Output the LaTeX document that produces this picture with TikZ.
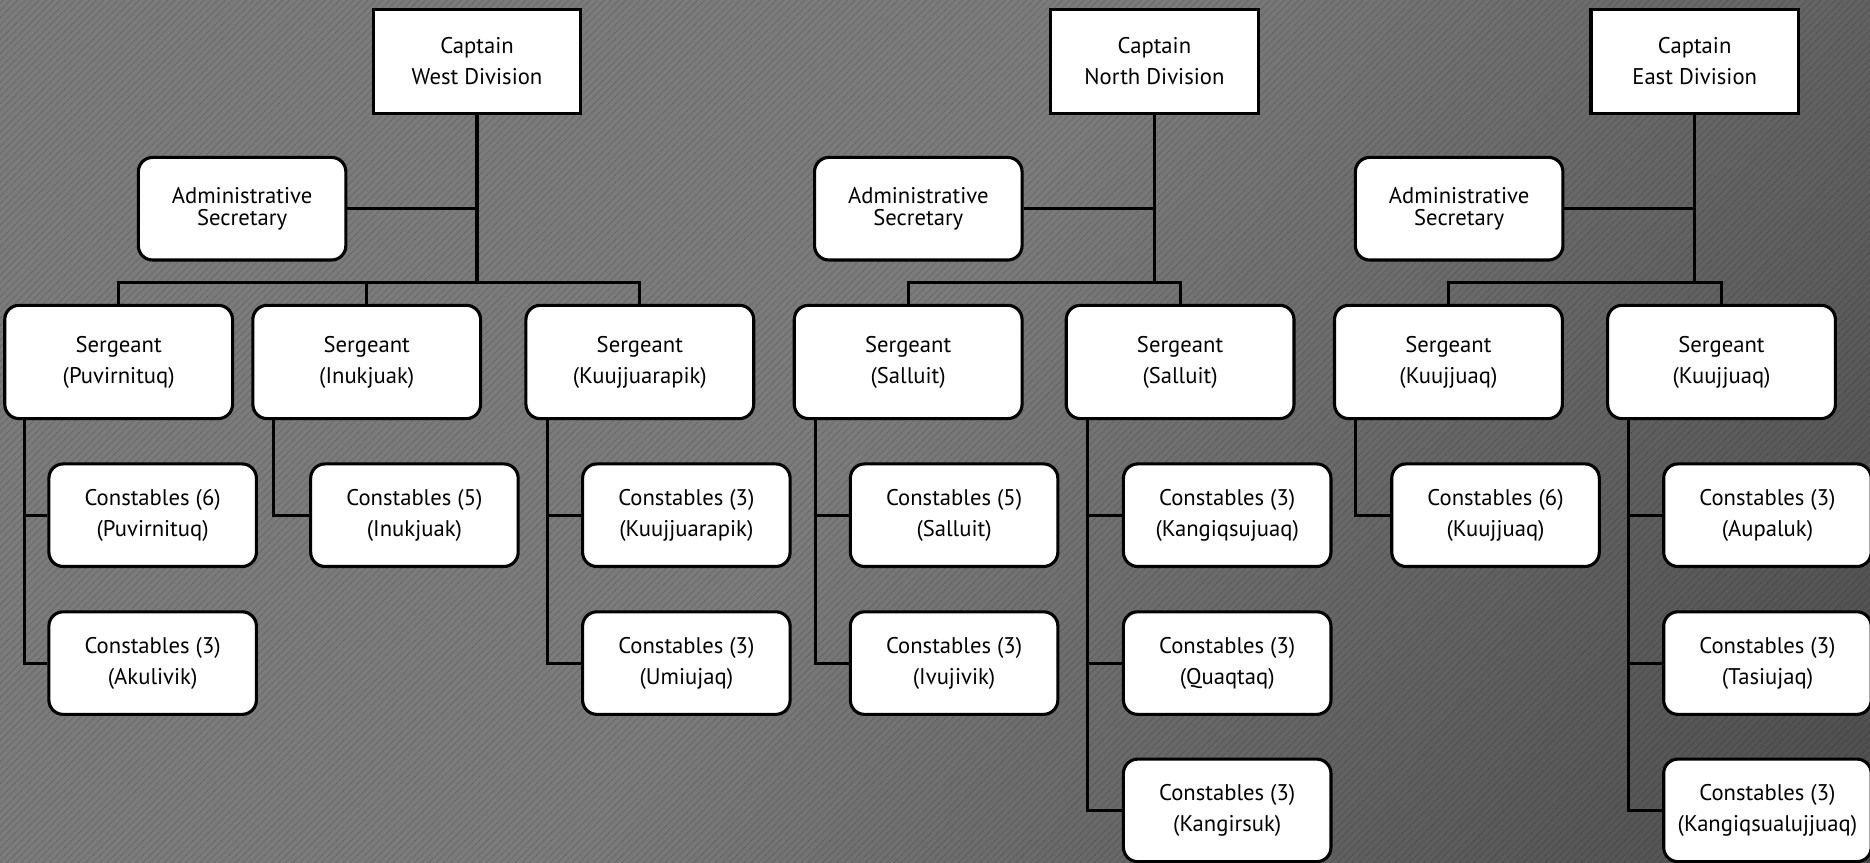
\documentclass[tikz,border=0pt]{standalone}
\usepackage{fontspec}
\setmainfont{PT Sans}
\usetikzlibrary{patterns}
\definecolor{bglight}{HTML}{7B7B7B}
\definecolor{bgdark}{HTML}{3A3A3A}
\pgfdeclarehorizontalshading{bggrad}{100bp}{color(0bp)=(bglight); color(48bp)=(bglight); color(100bp)=(bgdark)}
\tikzset{
  post/.style={draw=black,line width=1.3pt,fill=white,align=center,
    font=\fontsize{9.5}{13}\selectfont,inner sep=1pt},
  captain/.style={post,minimum width=87pt,minimum height=43.5pt},
  secretary/.style={post,rounded corners=6pt,minimum width=87pt,minimum height=43pt,
    font=\fontsize{9.5}{9.5}\selectfont},
  sergeant/.style={post,rounded corners=6pt,minimum width=95.5pt,minimum height=47.5pt},
  constable/.style={post,rounded corners=6pt,minimum width=87pt,minimum height=43pt},
  link/.style={draw=black,line width=1.3pt}
}

\begin{document}
\begin{tikzpicture}[x=0.5pt, y=-0.5pt]
            % background
            \shade[shading=bggrad, shading angle=-35] (0,0) rectangle (1568,723);
            \fill[pattern=north east lines, pattern color=black, opacity=0.12] (0,0) rectangle (1568,723);
            \useasboundingbox (0,0) rectangle (1568,723);

            % west division
            \node[captain]   (W_cap) at (400,51.5)    {Captain\\West Division};
            \node[secretary] (W_sec) at (203,175)     {Administrative\\Secretary};
            \node[sergeant]  (W_s1)  at (99.5,303.5)  {Sergeant\\(Puvirnituq)};
            \node[sergeant]  (W_s2)  at (307.5,303.5) {Sergeant\\(Inukjuak)};
            \node[sergeant]  (W_s3)  at (536.5,303.5) {Sergeant\\(Kuujjuarapik)};
            \node[constable] (W_c11) at (128,432)     {Constables (6)\\(Puvirnituq)};
            \node[constable] (W_c12) at (128,556)     {Constables (3)\\(Akulivik)};
            \node[constable] (W_c21) at (347.5,432)   {Constables (5)\\(Inukjuak)};
            \node[constable] (W_c31) at (575.5,432)   {Constables (3)\\(Kuujjuarapik)};
            \node[constable] (W_c32) at (575.5,556)   {Constables (3)\\(Umiujaq)};
            \coordinate (W_bus) at (400,237);

            \draw[link] (W_cap) -- (W_bus);
            \draw[link] (W_sec.east) -- (W_sec.east -| W_cap);
            \draw[link] (W_s1.north) |- (W_bus) -| (W_s3.north);
            \draw[link] (W_s2.north) -- (W_s2.north |- W_bus);
            \draw[link] ([xshift=9pt]W_s1.south west) |- (W_c11.west);
            \draw[link] ([xshift=9pt]W_s1.south west) |- (W_c12.west);
            \draw[link] ([xshift=9.5pt]W_s2.south west) |- (W_c21.west);
            \draw[link] ([xshift=9.5pt]W_s3.south west) |- (W_c31.west);
            \draw[link] ([xshift=9.5pt]W_s3.south west) |- (W_c32.west);

            % north division
            \node[captain]   (N_cap) at (968,51.5)    {Captain\\North Division};
            \node[secretary] (N_sec) at (770,175)     {Administrative\\Secretary};
            \node[sergeant]  (N_s1)  at (761.5,303.5) {Sergeant\\(Salluit)};
            \node[sergeant]  (N_s2)  at (989.5,303.5) {Sergeant\\(Salluit)};
            \node[constable] (N_c11) at (800,432)     {Constables (5)\\(Salluit)};
            \node[constable] (N_c12) at (800,556)     {Constables (3)\\(Ivujivik)};
            \node[constable] (N_c21) at (1029,432)    {Constables (3)\\(Kangiqsujuaq)};
            \node[constable] (N_c22) at (1029,556)    {Constables (3)\\(Quaqtaq)};
            \node[constable] (N_c23) at (1029,679.5)  {Constables (3)\\(Kangirsuk)};
            \coordinate (N_bus) at (968,237);

            \draw[link] (N_cap) -- (N_bus);
            \draw[link] (N_sec.east) -- (N_sec.east -| N_cap);
            \draw[link] (N_s1.north) |- (N_bus) -| (N_s2.north);
            \draw[link] ([xshift=9.5pt]N_s1.south west) |- (N_c11.west);
            \draw[link] ([xshift=9.5pt]N_s1.south west) |- (N_c12.west);
            \draw[link] ([xshift=9.5pt]N_s2.south west) |- (N_c21.west);
            \draw[link] ([xshift=9.5pt]N_s2.south west) |- (N_c22.west);
            \draw[link] ([xshift=9.5pt]N_s2.south west) |- (N_c23.west);

            % east division
            \node[captain]   (E_cap) at (1421,51.5)    {Captain\\East Division};
            \node[secretary] (E_sec) at (1223.5,175)   {Administrative\\Secretary};
            \node[sergeant]  (E_s1)  at (1214.5,303.5) {Sergeant\\(Kuujjuaq)};
            \node[sergeant]  (E_s2)  at (1443.5,303.5) {Sergeant\\(Kuujjuaq)};
            \node[constable] (E_c11) at (1254,432)     {Constables (6)\\(Kuujjuaq)};
            \node[constable] (E_c21) at (1482,432)     {Constables (3)\\(Aupaluk)};
            \node[constable] (E_c22) at (1482,556)     {Constables (3)\\(Tasiujaq)};
            \node[constable] (E_c23) at (1482,679.5)   {Constables (3)\\(Kangiqsualujjuaq)};
            \coordinate (E_bus) at (1421,237);

            \draw[link] (E_cap) -- (E_bus);
            \draw[link] (E_sec.east) -- (E_sec.east -| E_cap);
            \draw[link] (E_s1.north) |- (E_bus) -| (E_s2.north);
            \draw[link] ([xshift=9.5pt]E_s1.south west) |- (E_c11.west);
            \draw[link] ([xshift=9.5pt]E_s2.south west) |- (E_c21.west);
            \draw[link] ([xshift=9.5pt]E_s2.south west) |- (E_c22.west);
            \draw[link] ([xshift=9.5pt]E_s2.south west) |- (E_c23.west);
\end{tikzpicture}
\end{document}
